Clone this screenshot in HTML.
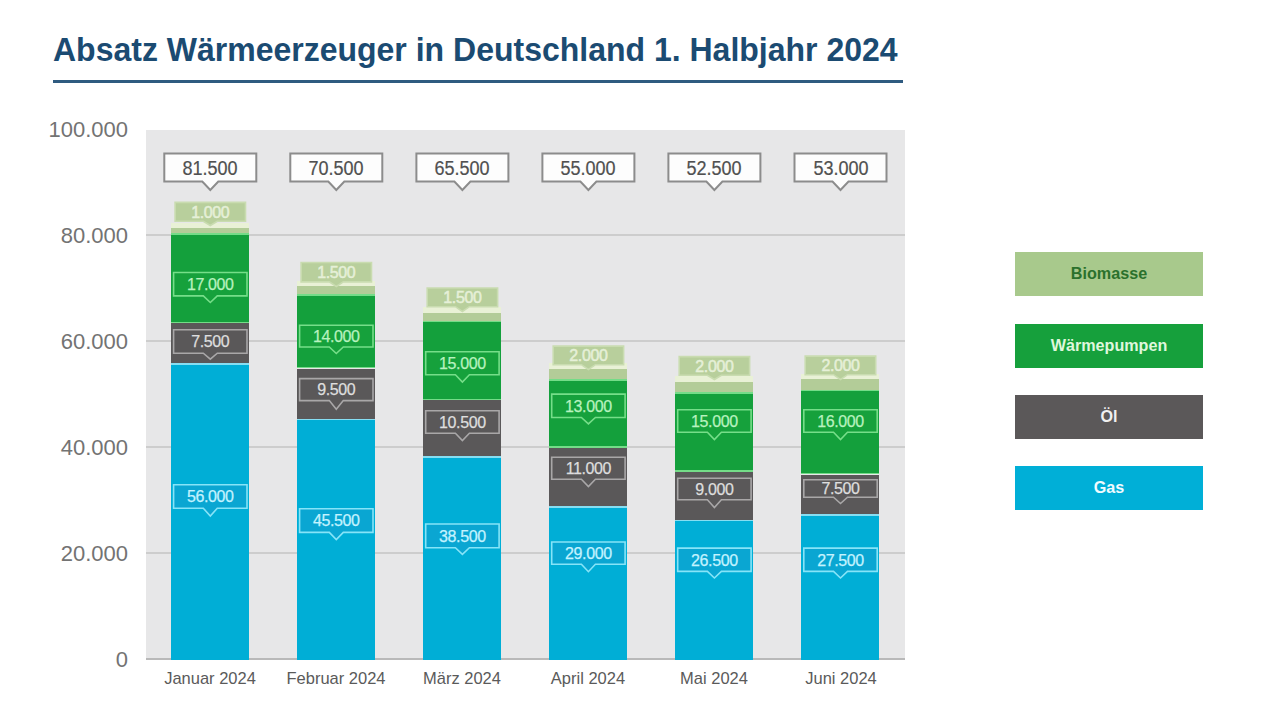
<!DOCTYPE html><html><head><meta charset="utf-8"><style>
html,body{margin:0;padding:0;background:#fff;width:1280px;height:720px;overflow:hidden;position:relative;font-family:"Liberation Sans",sans-serif}
.a{position:absolute;white-space:nowrap}
.yl{position:absolute;right:1152px;font-size:22px;color:#737373;line-height:24px}
.cl{position:absolute;width:140px;text-align:center;font-size:17px;color:#5a5a5a;line-height:20px;transform:scaleX(0.97)}
.tb{position:absolute;font-size:20.5px;color:#505050;text-align:center;line-height:24px;transform:scaleX(0.88);-webkit-text-stroke:0.2px currentColor}
.lb{position:absolute;font-size:16px;text-align:center;line-height:17px;letter-spacing:-0.4px;-webkit-text-stroke:0.25px currentColor}
.lg{position:absolute;left:1015px;width:188px;height:44px;text-align:center;font-weight:bold}.lg span{display:block;font-size:17px;line-height:43px;transform:scaleX(0.95)}
</style></head><body>
<div class="a" style="left:53px;top:29px;font-size:34px;font-weight:bold;color:#1b4b72;line-height:40px;transform-origin:0 0;transform:scaleX(0.941)">Absatz Wärmeerzeuger in Deutschland 1. Halbjahr 2024</div>
<div class="a" style="left:53px;top:80px;width:850px;height:3px;background:#2f5b80"></div>
<div class="a" style="left:146px;top:130px;width:758.5px;height:530px;background:#e7e7e8"></div>
<div class="a" style="left:146px;top:552.25px;width:758.5px;height:1.5px;background:#cdcdcd"></div>
<div class="a" style="left:146px;top:446.25px;width:758.5px;height:1.5px;background:#cdcdcd"></div>
<div class="a" style="left:146px;top:340.25px;width:758.5px;height:1.5px;background:#cdcdcd"></div>
<div class="a" style="left:146px;top:234.25px;width:758.5px;height:1.5px;background:#cdcdcd"></div>
<div class="a" style="left:146px;top:657.5px;width:758.5px;height:2.8px;background:#b9b9b9"></div>
<div class="yl" style="top:648.1px">0</div>
<div class="yl" style="top:542.1px">20.000</div>
<div class="yl" style="top:436.1px">40.000</div>
<div class="yl" style="top:330.1px">60.000</div>
<div class="yl" style="top:224.1px">80.000</div>
<div class="yl" style="top:118.1px">100.000</div>
<div class="a" style="left:171.30px;top:363.20px;width:78px;height:296.80px;background:#00aed6"></div>
<div class="a" style="left:171.30px;top:363.20px;width:78px;height:1.6px;background:#86def2"></div>
<div class="a" style="left:171.30px;top:323.45px;width:78px;height:39.75px;background:#5a5859"></div>
<div class="a" style="left:171.30px;top:233.35px;width:78px;height:90.10px;background:#14a03c"></div>
<div class="a" style="left:171.30px;top:233.35px;width:78px;height:1.6px;background:#74dc88"></div>
<div class="a" style="left:171.30px;top:321.65px;width:78px;height:1.8px;background:#74dc88"></div>
<div class="a" style="left:171.30px;top:228.05px;width:78px;height:5.30px;background:#b3cc98"></div>
<div class="a" style="left:171.30px;top:222.55px;width:78px;height:5.5px;background:#e9f1d6"></div>
<div class="lb" style="left:174.3px;width:72px;top:203.6px;color:#e6f0d8;-webkit-text-stroke:0.5px currentColor">1.000</div>
<div class="lb" style="left:172.8px;width:75px;top:276.0px;color:#b8f2bf">17.000</div>
<div class="lb" style="left:172.8px;width:75px;top:333.3px;color:#dedede">7.500</div>
<div class="lb" style="left:172.8px;width:75px;top:488.3px;color:#c4f3ff">56.000</div>
<div class="tb" style="left:163.3px;width:94px;top:155.8px">81.500</div>
<div class="cl" style="left:140.3px;top:669.1px">Januar 2024</div>
<div class="a" style="left:297.33px;top:418.85px;width:78px;height:241.15px;background:#00aed6"></div>
<div class="a" style="left:297.33px;top:418.85px;width:78px;height:1.6px;background:#86def2"></div>
<div class="a" style="left:297.33px;top:368.50px;width:78px;height:50.35px;background:#5a5859"></div>
<div class="a" style="left:297.33px;top:294.30px;width:78px;height:74.20px;background:#14a03c"></div>
<div class="a" style="left:297.33px;top:294.30px;width:78px;height:1.6px;background:#74dc88"></div>
<div class="a" style="left:297.33px;top:366.70px;width:78px;height:1.8px;background:#74dc88"></div>
<div class="a" style="left:297.33px;top:286.35px;width:78px;height:7.95px;background:#b3cc98"></div>
<div class="a" style="left:297.33px;top:280.85px;width:78px;height:5.5px;background:#e9f1d6"></div>
<div class="lb" style="left:300.3px;width:72px;top:264.0px;color:#e6f0d8;-webkit-text-stroke:0.5px currentColor">1.500</div>
<div class="lb" style="left:298.8px;width:75px;top:327.9px;color:#b8f2bf">14.000</div>
<div class="lb" style="left:298.8px;width:75px;top:381.4px;color:#dedede">9.500</div>
<div class="lb" style="left:298.8px;width:75px;top:512.4px;color:#c4f3ff">45.500</div>
<div class="tb" style="left:289.3px;width:94px;top:155.8px">70.500</div>
<div class="cl" style="left:266.3px;top:669.1px">Februar 2024</div>
<div class="a" style="left:423.36px;top:455.95px;width:78px;height:204.05px;background:#00aed6"></div>
<div class="a" style="left:423.36px;top:455.95px;width:78px;height:1.6px;background:#86def2"></div>
<div class="a" style="left:423.36px;top:400.30px;width:78px;height:55.65px;background:#5a5859"></div>
<div class="a" style="left:423.36px;top:320.80px;width:78px;height:79.50px;background:#14a03c"></div>
<div class="a" style="left:423.36px;top:320.80px;width:78px;height:1.6px;background:#74dc88"></div>
<div class="a" style="left:423.36px;top:398.50px;width:78px;height:1.8px;background:#74dc88"></div>
<div class="a" style="left:423.36px;top:312.85px;width:78px;height:7.95px;background:#b3cc98"></div>
<div class="a" style="left:423.36px;top:307.35px;width:78px;height:5.5px;background:#e9f1d6"></div>
<div class="lb" style="left:426.4px;width:72px;top:289.2px;color:#e6f0d8;-webkit-text-stroke:0.5px currentColor">1.500</div>
<div class="lb" style="left:424.9px;width:75px;top:355.1px;color:#b8f2bf">15.000</div>
<div class="lb" style="left:424.9px;width:75px;top:413.8px;color:#dedede">10.500</div>
<div class="lb" style="left:424.9px;width:75px;top:527.6px;color:#c4f3ff">38.500</div>
<div class="tb" style="left:415.4px;width:94px;top:155.8px">65.500</div>
<div class="cl" style="left:392.4px;top:669.1px">März 2024</div>
<div class="a" style="left:549.39px;top:506.30px;width:78px;height:153.70px;background:#00aed6"></div>
<div class="a" style="left:549.39px;top:506.30px;width:78px;height:1.6px;background:#86def2"></div>
<div class="a" style="left:549.39px;top:448.00px;width:78px;height:58.30px;background:#5a5859"></div>
<div class="a" style="left:549.39px;top:379.10px;width:78px;height:68.90px;background:#14a03c"></div>
<div class="a" style="left:549.39px;top:379.10px;width:78px;height:1.6px;background:#74dc88"></div>
<div class="a" style="left:549.39px;top:446.20px;width:78px;height:1.8px;background:#74dc88"></div>
<div class="a" style="left:549.39px;top:368.50px;width:78px;height:10.60px;background:#b3cc98"></div>
<div class="a" style="left:549.39px;top:363.00px;width:78px;height:5.5px;background:#e9f1d6"></div>
<div class="lb" style="left:552.4px;width:72px;top:347.2px;color:#e6f0d8;-webkit-text-stroke:0.5px currentColor">2.000</div>
<div class="lb" style="left:550.9px;width:75px;top:397.6px;color:#b8f2bf">13.000</div>
<div class="lb" style="left:550.9px;width:75px;top:460.0px;color:#dedede">11.000</div>
<div class="lb" style="left:550.9px;width:75px;top:544.9px;color:#c4f3ff">29.000</div>
<div class="tb" style="left:541.4px;width:94px;top:155.8px">55.000</div>
<div class="cl" style="left:518.4px;top:669.1px">April 2024</div>
<div class="a" style="left:675.42px;top:519.55px;width:78px;height:140.45px;background:#00aed6"></div>
<div class="a" style="left:675.42px;top:519.55px;width:78px;height:1.6px;background:#86def2"></div>
<div class="a" style="left:675.42px;top:471.85px;width:78px;height:47.70px;background:#5a5859"></div>
<div class="a" style="left:675.42px;top:392.35px;width:78px;height:79.50px;background:#14a03c"></div>
<div class="a" style="left:675.42px;top:392.35px;width:78px;height:1.6px;background:#74dc88"></div>
<div class="a" style="left:675.42px;top:470.05px;width:78px;height:1.8px;background:#74dc88"></div>
<div class="a" style="left:675.42px;top:381.75px;width:78px;height:10.60px;background:#b3cc98"></div>
<div class="a" style="left:675.42px;top:376.25px;width:78px;height:5.5px;background:#e9f1d6"></div>
<div class="lb" style="left:678.4px;width:72px;top:357.7px;color:#e6f0d8;-webkit-text-stroke:0.5px currentColor">2.000</div>
<div class="lb" style="left:676.9px;width:75px;top:412.8px;color:#b8f2bf">15.000</div>
<div class="lb" style="left:676.9px;width:75px;top:480.8px;color:#dedede">9.000</div>
<div class="lb" style="left:676.9px;width:75px;top:551.5px;color:#c4f3ff">26.500</div>
<div class="tb" style="left:667.4px;width:94px;top:155.8px">52.500</div>
<div class="cl" style="left:644.4px;top:669.1px">Mai 2024</div>
<div class="a" style="left:801.45px;top:514.25px;width:78px;height:145.75px;background:#00aed6"></div>
<div class="a" style="left:801.45px;top:514.25px;width:78px;height:1.6px;background:#86def2"></div>
<div class="a" style="left:801.45px;top:474.50px;width:78px;height:39.75px;background:#5a5859"></div>
<div class="a" style="left:801.45px;top:389.70px;width:78px;height:84.80px;background:#14a03c"></div>
<div class="a" style="left:801.45px;top:389.70px;width:78px;height:1.6px;background:#74dc88"></div>
<div class="a" style="left:801.45px;top:472.70px;width:78px;height:1.8px;background:#74dc88"></div>
<div class="a" style="left:801.45px;top:379.10px;width:78px;height:10.60px;background:#b3cc98"></div>
<div class="a" style="left:801.45px;top:373.60px;width:78px;height:5.5px;background:#e9f1d6"></div>
<div class="lb" style="left:804.5px;width:72px;top:357.2px;color:#e6f0d8;-webkit-text-stroke:0.5px currentColor">2.000</div>
<div class="lb" style="left:803.0px;width:75px;top:412.8px;color:#b8f2bf">16.000</div>
<div class="lb" style="left:803.0px;width:75px;top:480.3px;color:#dedede">7.500</div>
<div class="lb" style="left:803.0px;width:75px;top:551.5px;color:#c4f3ff">27.500</div>
<div class="tb" style="left:793.5px;width:94px;top:155.8px">53.000</div>
<div class="cl" style="left:770.5px;top:669.1px">Juni 2024</div>
<svg class="a" style="left:0;top:0;z-index:1" width="1280" height="720" viewBox="0 0 1280 720"><path d="M175.1,202.4H245.5V221.2H217.3L210.3,225.5L203.3,221.2H175.1Z" fill="#b8cf9c" stroke="#c9dcb0" stroke-width="1.6"/><path d="M173.6,272.5H247.0V295.9H217.3L210.3,302.5L203.3,295.9H173.6Z" fill="#16a13c" stroke="#76de89" stroke-width="1.6"/><path d="M173.6,329.8H247.0V353.2H217.3L210.3,359.1L203.3,353.2H173.6Z" fill="#5a5859" stroke="#a9a7a8" stroke-width="1.6"/><path d="M173.6,484.8H247.0V508.2H217.3L210.3,516.1L203.3,508.2H173.6Z" fill="#0aa6d2" stroke="#86e4f8" stroke-width="1.6"/><path d="M164.3,153.5H256.3V181.5H218.3L210.3,190.0L202.3,181.5H164.3Z" fill="#fdfdfd" stroke="#8c8c8c" stroke-width="2"/><path d="M301.1,262.5H371.5V281.9H343.3L336.3,286.5L329.3,281.9H301.1Z" fill="#b8cf9c" stroke="#c9dcb0" stroke-width="1.6"/><path d="M299.6,325.2H373.0V347.0H343.3L336.3,353.5L329.3,347.0H299.6Z" fill="#16a13c" stroke="#76de89" stroke-width="1.6"/><path d="M299.6,378.6H373.0V400.6H343.3L336.3,409.2L329.3,400.6H299.6Z" fill="#5a5859" stroke="#a9a7a8" stroke-width="1.6"/><path d="M299.6,508.8H373.0V532.4H343.3L336.3,539.5L329.3,532.4H299.6Z" fill="#0aa6d2" stroke="#86e4f8" stroke-width="1.6"/><path d="M290.3,153.5H382.3V181.5H344.3L336.3,190.0L328.3,181.5H290.3Z" fill="#fdfdfd" stroke="#8c8c8c" stroke-width="2"/><path d="M427.2,288.0H497.6V306.7H469.4L462.4,311.5L455.4,306.7H427.2Z" fill="#b8cf9c" stroke="#c9dcb0" stroke-width="1.6"/><path d="M425.7,351.8H499.1V374.8H469.4L462.4,382.0L455.4,374.8H425.7Z" fill="#16a13c" stroke="#76de89" stroke-width="1.6"/><path d="M425.7,410.8H499.1V433.2H469.4L462.4,440.5L455.4,433.2H425.7Z" fill="#5a5859" stroke="#a9a7a8" stroke-width="1.6"/><path d="M425.7,524.0H499.1V547.7H469.4L462.4,554.3L455.4,547.7H425.7Z" fill="#0aa6d2" stroke="#86e4f8" stroke-width="1.6"/><path d="M416.4,153.5H508.4V181.5H470.4L462.4,190.0L454.4,181.5H416.4Z" fill="#fdfdfd" stroke="#8c8c8c" stroke-width="2"/><path d="M553.2,346.1H623.6V364.7H595.4L588.4,369.5L581.4,364.7H553.2Z" fill="#b8cf9c" stroke="#c9dcb0" stroke-width="1.6"/><path d="M551.7,394.1H625.1V417.5H595.4L588.4,423.9L581.4,417.5H551.7Z" fill="#16a13c" stroke="#76de89" stroke-width="1.6"/><path d="M551.7,457.2H625.1V479.2H595.4L588.4,486.5L581.4,479.2H551.7Z" fill="#5a5859" stroke="#a9a7a8" stroke-width="1.6"/><path d="M551.7,542.0H625.1V564.2H595.4L588.4,571.7L581.4,564.2H551.7Z" fill="#0aa6d2" stroke="#86e4f8" stroke-width="1.6"/><path d="M542.4,153.5H634.4V181.5H596.4L588.4,190.0L580.4,181.5H542.4Z" fill="#fdfdfd" stroke="#8c8c8c" stroke-width="2"/><path d="M679.2,356.6H749.6V375.2H721.4L714.4,379.5L707.4,375.2H679.2Z" fill="#b8cf9c" stroke="#c9dcb0" stroke-width="1.6"/><path d="M677.7,409.8H751.1V432.2H721.4L714.4,439.5L707.4,432.2H677.7Z" fill="#16a13c" stroke="#76de89" stroke-width="1.6"/><path d="M677.7,478.3H751.1V499.7H721.4L714.4,507.5L707.4,499.7H677.7Z" fill="#5a5859" stroke="#a9a7a8" stroke-width="1.6"/><path d="M677.7,548.1H751.1V571.4H721.4L714.4,578.0L707.4,571.4H677.7Z" fill="#0aa6d2" stroke="#86e4f8" stroke-width="1.6"/><path d="M668.4,153.5H760.4V181.5H722.4L714.4,190.0L706.4,181.5H668.4Z" fill="#fdfdfd" stroke="#8c8c8c" stroke-width="2"/><path d="M805.2,356.1H875.7V374.7H847.5L840.5,379.5L833.5,374.7H805.2Z" fill="#b8cf9c" stroke="#c9dcb0" stroke-width="1.6"/><path d="M803.8,409.8H877.2V432.2H847.5L840.5,439.5L833.5,432.2H803.8Z" fill="#16a13c" stroke="#76de89" stroke-width="1.6"/><path d="M803.8,479.8H877.2V497.2H847.5L840.5,503.5L833.5,497.2H803.8Z" fill="#5a5859" stroke="#a9a7a8" stroke-width="1.6"/><path d="M803.8,548.1H877.2V571.4H847.5L840.5,578.0L833.5,571.4H803.8Z" fill="#0aa6d2" stroke="#86e4f8" stroke-width="1.6"/><path d="M794.5,153.5H886.5V181.5H848.5L840.5,190.0L832.5,181.5H794.5Z" fill="#fdfdfd" stroke="#8c8c8c" stroke-width="2"/></svg>
<style>.lb,.tb{z-index:2}</style>
<div class="lg" style="top:252px;background:#a8c98c;color:#2b712c"><span>Biomasse</span></div>
<div class="lg" style="top:324px;background:#16a03c;color:#dff7dc"><span>Wärmepumpen</span></div>
<div class="lg" style="top:395px;background:#5b5859;color:#f0f0f0"><span>Öl</span></div>
<div class="lg" style="top:466px;background:#00afd7;color:#f2fbff"><span>Gas</span></div>
</body></html>
